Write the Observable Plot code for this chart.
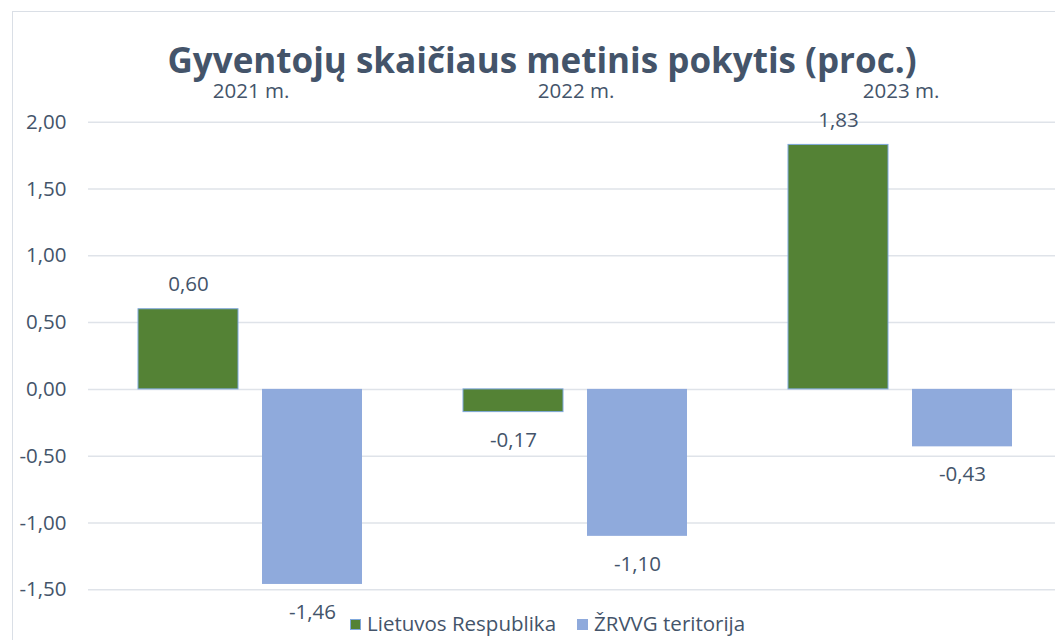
<!DOCTYPE html>
<html>
<head>
<meta charset="utf-8">
<script src="https://cdn.jsdelivr.net/npm/d3@7"></script>
<script src="https://cdn.jsdelivr.net/npm/@observablehq/plot@0.6"></script>
<style>
html, body { margin: 0; padding: 0; width: 1055px; height: 640px; overflow: hidden; background: #fff; font-family: "Open Sans", sans-serif; }
#frame { position: absolute; left: 11.5px; top: 11px; width: 1100px; height: 700px; border-top: 1.3px solid #dadfe6; border-left: 1.3px solid #dadfe6; box-sizing: border-box; }
#chart { position: absolute; left: 0; top: 0; width: 1063px; }
#chart svg { max-width: none !important; }
#title { position: absolute; left: 0; width: 1084px; top: 42px; height: 35px; text-align: center; font-weight: 700; font-size: 35px; line-height: 35px; color: #44546A; white-space: nowrap; }
.leg { position: absolute; top: 609px; font-size: 20.5px; line-height: normal; color: #44546A; white-space: nowrap; }
.sw { position: absolute; width: 11px; height: 11px; top: 10px; box-sizing: border-box; }
.leg span.t { position: absolute; left: 17px; top: 0; }
</style>
</head>
<body>
<div id="frame"></div>
<div id="chart"></div>
<div id="title"></div>
<div id="legend"></div>
<script>
// ---- data ----
const years = ["2021 m.", "2022 m.", "2023 m."];
const seriesNames = ["Lietuvos Respublika", "ŽRVVG teritorija"];
const lietuvosValues = [0.60, -0.17, 1.83];
const zrvvgValues = [-1.46, -1.10, -0.43];
const yTicks = [-1.5, -1.0, -0.5, 0, 0.5, 1.0, 1.5, 2.0];
const seriesColors = ["#548235", "#8FAADC"];
const titleText = "Gyventojų skaičiaus metinis pokytis (proc.)";

const fmt = v => v.toFixed(2).replace(".", ",");

const data = years.flatMap((yr, i) => [
  {year: yr, series: seriesNames[0], value: lietuvosValues[i]},
  {year: yr, series: seriesNames[1], value: zrvvgValues[i]}
]);

const textColor = "#44546A";

const chart = Plot.plot({
  width: 1063,
  height: 640,
  marginLeft: 88,
  marginRight: 0,
  marginTop: 121.7,
  marginBottom: 50.7,
  style: {fontFamily: "'Open Sans', sans-serif", fontSize: "20.5px", color: textColor, background: "transparent", overflow: "visible", maxWidth: "none"},
  fx: {domain: years, padding: 0, axis: "top", label: null, tickSize: 0, tickPadding: 24},
  x: {domain: seriesNames, paddingInner: 0.1935, paddingOuter: 0.407, axis: null},
  y: {domain: [-1.5, 2], ticks: yTicks, tickFormat: fmt, tickSize: 0, tickPadding: 22, label: null},
  color: {domain: seriesNames, range: seriesColors},
  marks: [
    Plot.gridY(yTicks, {stroke: "#dfe3e9", strokeOpacity: 1, strokeWidth: 1.5}),
    Plot.barY(data.filter(d => d.series === seriesNames[0]), {fx: "year", x: "series", y: "value", fill: "series", stroke: "#7fa8dc", strokeWidth: 1}),
    Plot.barY(data.filter(d => d.series === seriesNames[1]), {fx: "year", x: "series", y: "value", fill: "series"}),
    Plot.text(data.filter(d => d.value >= 0), {fx: "year", x: "series", y: "value", text: d => fmt(d.value), dy: -24.5, fill: textColor}),
    Plot.text(data.filter(d => d.value < 0), {fx: "year", x: "series", y: "value", text: d => fmt(d.value), dy: 28, fill: textColor})
  ]
});
document.getElementById("chart").appendChild(chart);
document.getElementById("title").textContent = titleText;

// legend
const legend = document.getElementById("legend");
const legLeft = [350, 577];
seriesNames.forEach((name, i) => {
  const item = document.createElement("div");
  item.className = "leg";
  item.style.left = legLeft[i] + "px";
  const sw = document.createElement("div");
  sw.className = "sw";
  sw.style.background = seriesColors[i];
  if (i === 0) sw.style.border = "1px solid #7fa8dc";
  const t = document.createElement("span");
  t.className = "t";
  t.textContent = name;
  item.appendChild(sw);
  item.appendChild(t);
  legend.appendChild(item);
});
</script>
</body>
</html>
